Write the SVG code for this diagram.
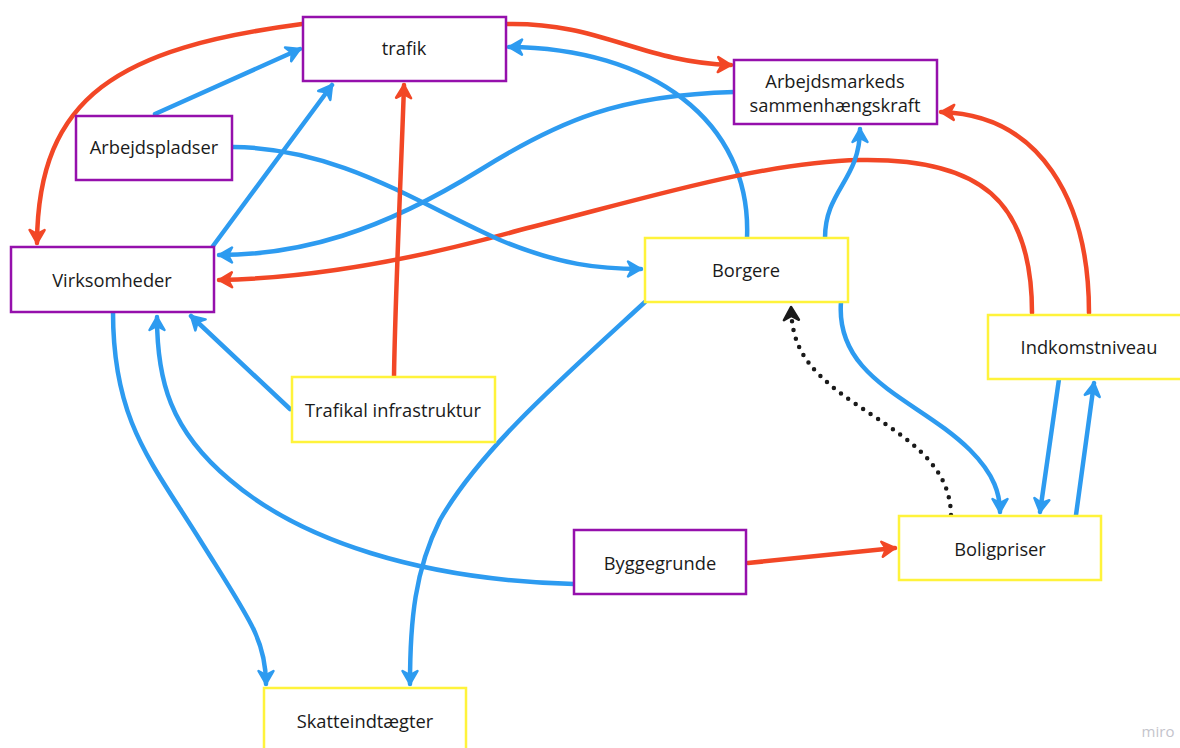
<svg xmlns="http://www.w3.org/2000/svg" width="1180" height="748" viewBox="0 0 1180 748">
<defs>
<style>
.node rect{fill:#ffffff;stroke-width:2.5}
.p rect{stroke:#9510ac}
.y rect{stroke:#fff33b}
.node text{font-family:"Open Sans","Noto Sans","Liberation Sans",sans-serif;font-size:18.3px;fill:#1a1a1a;text-anchor:middle;dominant-baseline:central}
.c path{fill:none;stroke-width:4.5;stroke-linecap:round}
.b{stroke:#2d9bf0;marker-end:url(#ab)}
.r{stroke:#f24726;marker-end:url(#ar)}
.k{stroke:#1a1a1a;stroke-dasharray:0 9;stroke-width:5;marker-end:url(#ak)}
</style>
<marker id="ab" markerUnits="userSpaceOnUse" viewBox="0 0 20 20" refX="17" refY="10" markerWidth="20" markerHeight="20" orient="auto"><path d="M17,10 L4,2.5 L8,10 L4,17.5 Z" fill="#2d9bf0" stroke="#2d9bf0" stroke-width="2.5" stroke-linejoin="round"/></marker>
<marker id="ar" markerUnits="userSpaceOnUse" viewBox="0 0 20 20" refX="17" refY="10" markerWidth="20" markerHeight="20" orient="auto"><path d="M17,10 L4,2.5 L8,10 L4,17.5 Z" fill="#f24726" stroke="#f24726" stroke-width="2.5" stroke-linejoin="round"/></marker>
<marker id="ak" markerUnits="userSpaceOnUse" viewBox="0 0 20 20" refX="17" refY="10" markerWidth="20" markerHeight="20" orient="auto"><path d="M17,10 L4,2.5 L8,10 L4,17.5 Z" fill="#1a1a1a" stroke="#1a1a1a" stroke-width="2.5" stroke-linejoin="round"/></marker>
</defs>
<rect width="1180" height="748" fill="#ffffff"/>
<g id="connectors" class="c">
<path class="r" d="M302,24 C120,48 38,95 37,243"/>
<path class="r" d="M506,24 C600,22 640,62 731,65"/>
<path class="b" d="M747,238 C752,120 650,48 509,47"/>
<path class="b" d="M155,114 L300,49"/>
<path class="b" d="M213,246 L332,85"/>
<path class="b" d="M734,92 C620,95 560,120 480,170 C380,232 300,255 219,255"/>
<path class="r" d="M1032,313 C1032,200 980,158 860,160 C760,162 640,200 520,230 C420,258 320,278 219,280"/>
<path class="r" d="M1089,313 C1089,200 1040,115 941,112"/>
<path class="b" d="M825,238 C825,190 860,180 860,129"/>
<path class="b" d="M233,147 C340,148 420,205 500,240 C560,265 600,269 641,269"/>
<path class="r" d="M394,377 C395,300 402,150 404,85"/>
<path class="b" d="M290,409 L191,316"/>
<path class="b" d="M113,312 C113,420 150,460 200,540 C250,620 266,640 266,684"/>
<path class="b" d="M574,584 C420,580 300,540 230,480 C170,430 157,380 157,317"/>
<path class="b" d="M645,302 C560,380 480,450 440,520 C415,570 410,620 410,684"/>
<path class="k" d="M951,515 C950,460 900,435 850,400 C800,365 792,340 791,307"/>
<path class="b" d="M841,302 C835,380 920,400 970,450 C995,475 1000,495 1000,512"/>
<path class="b" d="M1059,379 L1040,512"/>
<path class="b" d="M1076,515 L1094,383"/>
<path class="r" d="M748,563 L895,548"/>
</g>
<g id="trafik" class="node p"><rect x="303" y="17" width="203" height="64"/><text x="404" y="47">trafik</text></g>
<g id="arbejdsmarkeds" class="node p"><rect x="734" y="60" width="203" height="64"/><text x="835" y="80">Arbejdsmarkeds</text><text x="835" y="104">sammenhængskraft</text></g>
<g id="arbejdspladser" class="node p"><rect x="76" y="116" width="156" height="64"/><text x="154" y="146">Arbejdspladser</text></g>
<g id="virksomheder" class="node p"><rect x="11" y="247" width="203" height="65"/><text x="112" y="279">Virksomheder</text></g>
<g id="borgere" class="node y"><rect x="645" y="238" width="203" height="64"/><text x="746" y="269">Borgere</text></g>
<g id="indkomstniveau" class="node y"><rect x="988" y="315" width="203" height="64"/><text x="1089" y="346">Indkomstniveau</text></g>
<g id="trafikal" class="node y"><rect x="292" y="377" width="203" height="65"/><text x="393" y="409">Trafikal infrastruktur</text></g>
<g id="byggegrunde" class="node p"><rect x="574" y="530" width="172" height="64"/><text x="660" y="562">Byggegrunde</text></g>
<g id="boligpriser" class="node y"><rect x="899" y="516" width="202" height="64"/><text x="1000" y="548">Boligpriser</text></g>
<g id="skatteindtaegter" class="node y"><rect x="264" y="688" width="202" height="64"/><text x="365" y="720">Skatteindtægter</text></g>
<text x="1158" y="731" font-family="Open Sans,Liberation Sans,sans-serif" font-size="15" fill="#c4c4cc" text-anchor="middle" dominant-baseline="central">miro</text>
</svg>
